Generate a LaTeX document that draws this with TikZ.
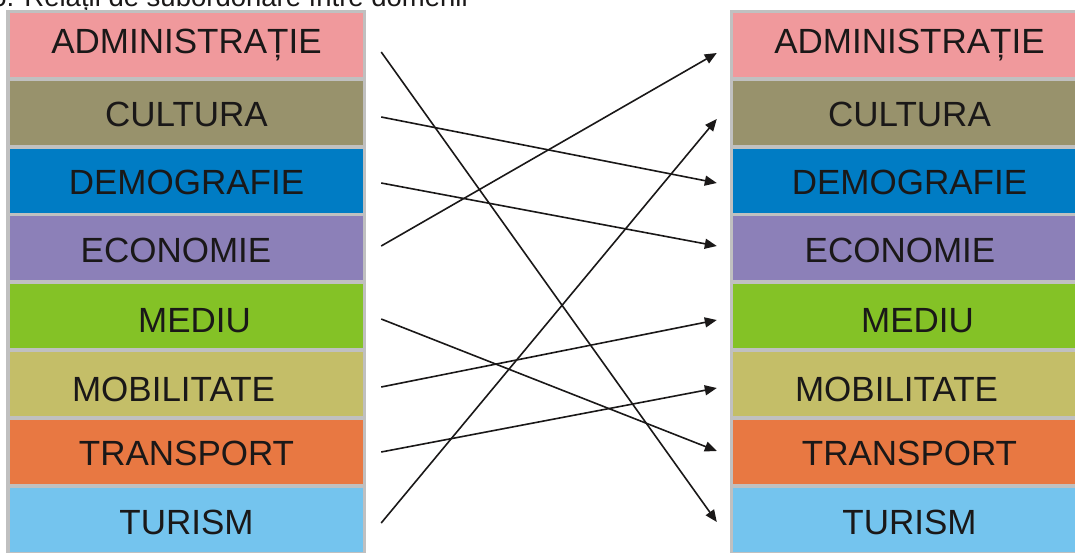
\documentclass[tikz,border=0pt]{standalone}
\usepackage{fontspec}
\setmainfont{Liberation Sans}
\usetikzlibrary{calc,arrows.meta}
\definecolor{cAdm}{RGB}{240,153,156}
\definecolor{cCul}{RGB}{152,146,108}
\definecolor{cDem}{RGB}{0,124,196}
\definecolor{cEco}{RGB}{140,128,184}
\definecolor{cMed}{RGB}{132,194,38}
\definecolor{cMob}{RGB}{196,190,104}
\definecolor{cTra}{RGB}{232,120,66}
\definecolor{cTur}{RGB}{116,196,238}
\definecolor{cFrame}{RGB}{192,192,192}
\definecolor{cText}{RGB}{26,24,24}
\begin{document}
\begin{tikzpicture}[x=1pt,y=-1pt,
  box/.style={rectangle, inner sep=0pt, minimum width=353pt, minimum height=64pt,
    text=cText, font=\fontsize{35}{40}\selectfont, text depth=0pt},
  arr/.style={line width=1.6pt, draw=cText, -{Triangle[length=12pt,width=10pt]}}]
\useasboundingbox (0,0) rectangle (1075,552);
\node[anchor=base east, inner sep=0pt, text=cText, font=\fontsize{27.5}{32}\selectfont] (title) at (468,6) {06. Relații de subordonare între domenii};
% frames
\fill[cFrame] (6,10) rectangle (366,560);
\fill[cFrame] (730,10) rectangle (1090,560);
% left column
\node[box, fill=cAdm, text height=16pt] (L1) at (186.5,45.0) {ADMINISTRAȚIE};
\node[box, fill=cCul, text height=27pt] (L2) at (186.5,112.8) {CULTURA};
\node[box, fill=cDem, text height=28pt] (L3) at (186.5,180.6) {DEMOGRAFIE};
\node[box, fill=cEco, text height=28pt] (L4) at (186.5,248.4) {\kern-21pt ECONOMIE};
\node[box, fill=cMed, text height=32pt] (L5) at (186.5,316.2) {\kern16pt MEDIU};
\node[box, fill=cMob, text height=34pt] (L6) at (186.5,384.0) {\kern-26pt MOBILITATE};
\node[box, fill=cTra, text height=27pt] (L7) at (186.5,451.8) {TRANSPORT};
\node[box, fill=cTur, text height=30pt] (L8) at (186.5,519.6) {TURISM};
% right column
\node[box, fill=cAdm, text height=16pt] (R1) at (909.5,45.0) {ADMINISTRAȚIE};
\node[box, fill=cCul, text height=27pt] (R2) at (909.5,112.8) {CULTURA};
\node[box, fill=cDem, text height=28pt] (R3) at (909.5,180.6) {DEMOGRAFIE};
\node[box, fill=cEco, text height=28pt] (R4) at (909.5,248.4) {\kern-19pt ECONOMIE};
\node[box, fill=cMed, text height=32pt] (R5) at (909.5,316.2) {\kern16pt MEDIU};
\node[box, fill=cMob, text height=34pt] (R6) at (909.5,384.0) {\kern-26pt MOBILITATE};
\node[box, fill=cTra, text height=27pt] (R7) at (909.5,451.8) {TRANSPORT};
\node[box, fill=cTur, text height=30pt] (R8) at (909.5,519.6) {TURISM};
% connectors
\draw[arr] ($(L1.east)+(18,7)$) -- ($(R8.west)+(-16,2.4)$);
\draw[arr] ($(L2.east)+(18,4.2)$) -- ($(R3.west)+(-16,2.4)$);
\draw[arr] ($(L3.east)+(18,2.4)$) -- ($(R4.west)+(-16,-2.4)$);
\draw[arr] ($(L4.east)+(18,-2.4)$) -- ($(R1.west)+(-16,8)$);
\draw[arr] ($(L5.east)+(18,2.8)$) -- ($(R7.west)+(-16,-0.8)$);
\draw[arr] ($(L6.east)+(18,3)$) -- ($(R5.west)+(-16,3.8)$);
\draw[arr] ($(L7.east)+(18,0.2)$) -- ($(R6.west)+(-16,4)$);
\draw[arr] ($(L8.east)+(18,3.4)$) -- ($(R2.west)+(-16,6.2)$);
\end{tikzpicture}
\end{document}
